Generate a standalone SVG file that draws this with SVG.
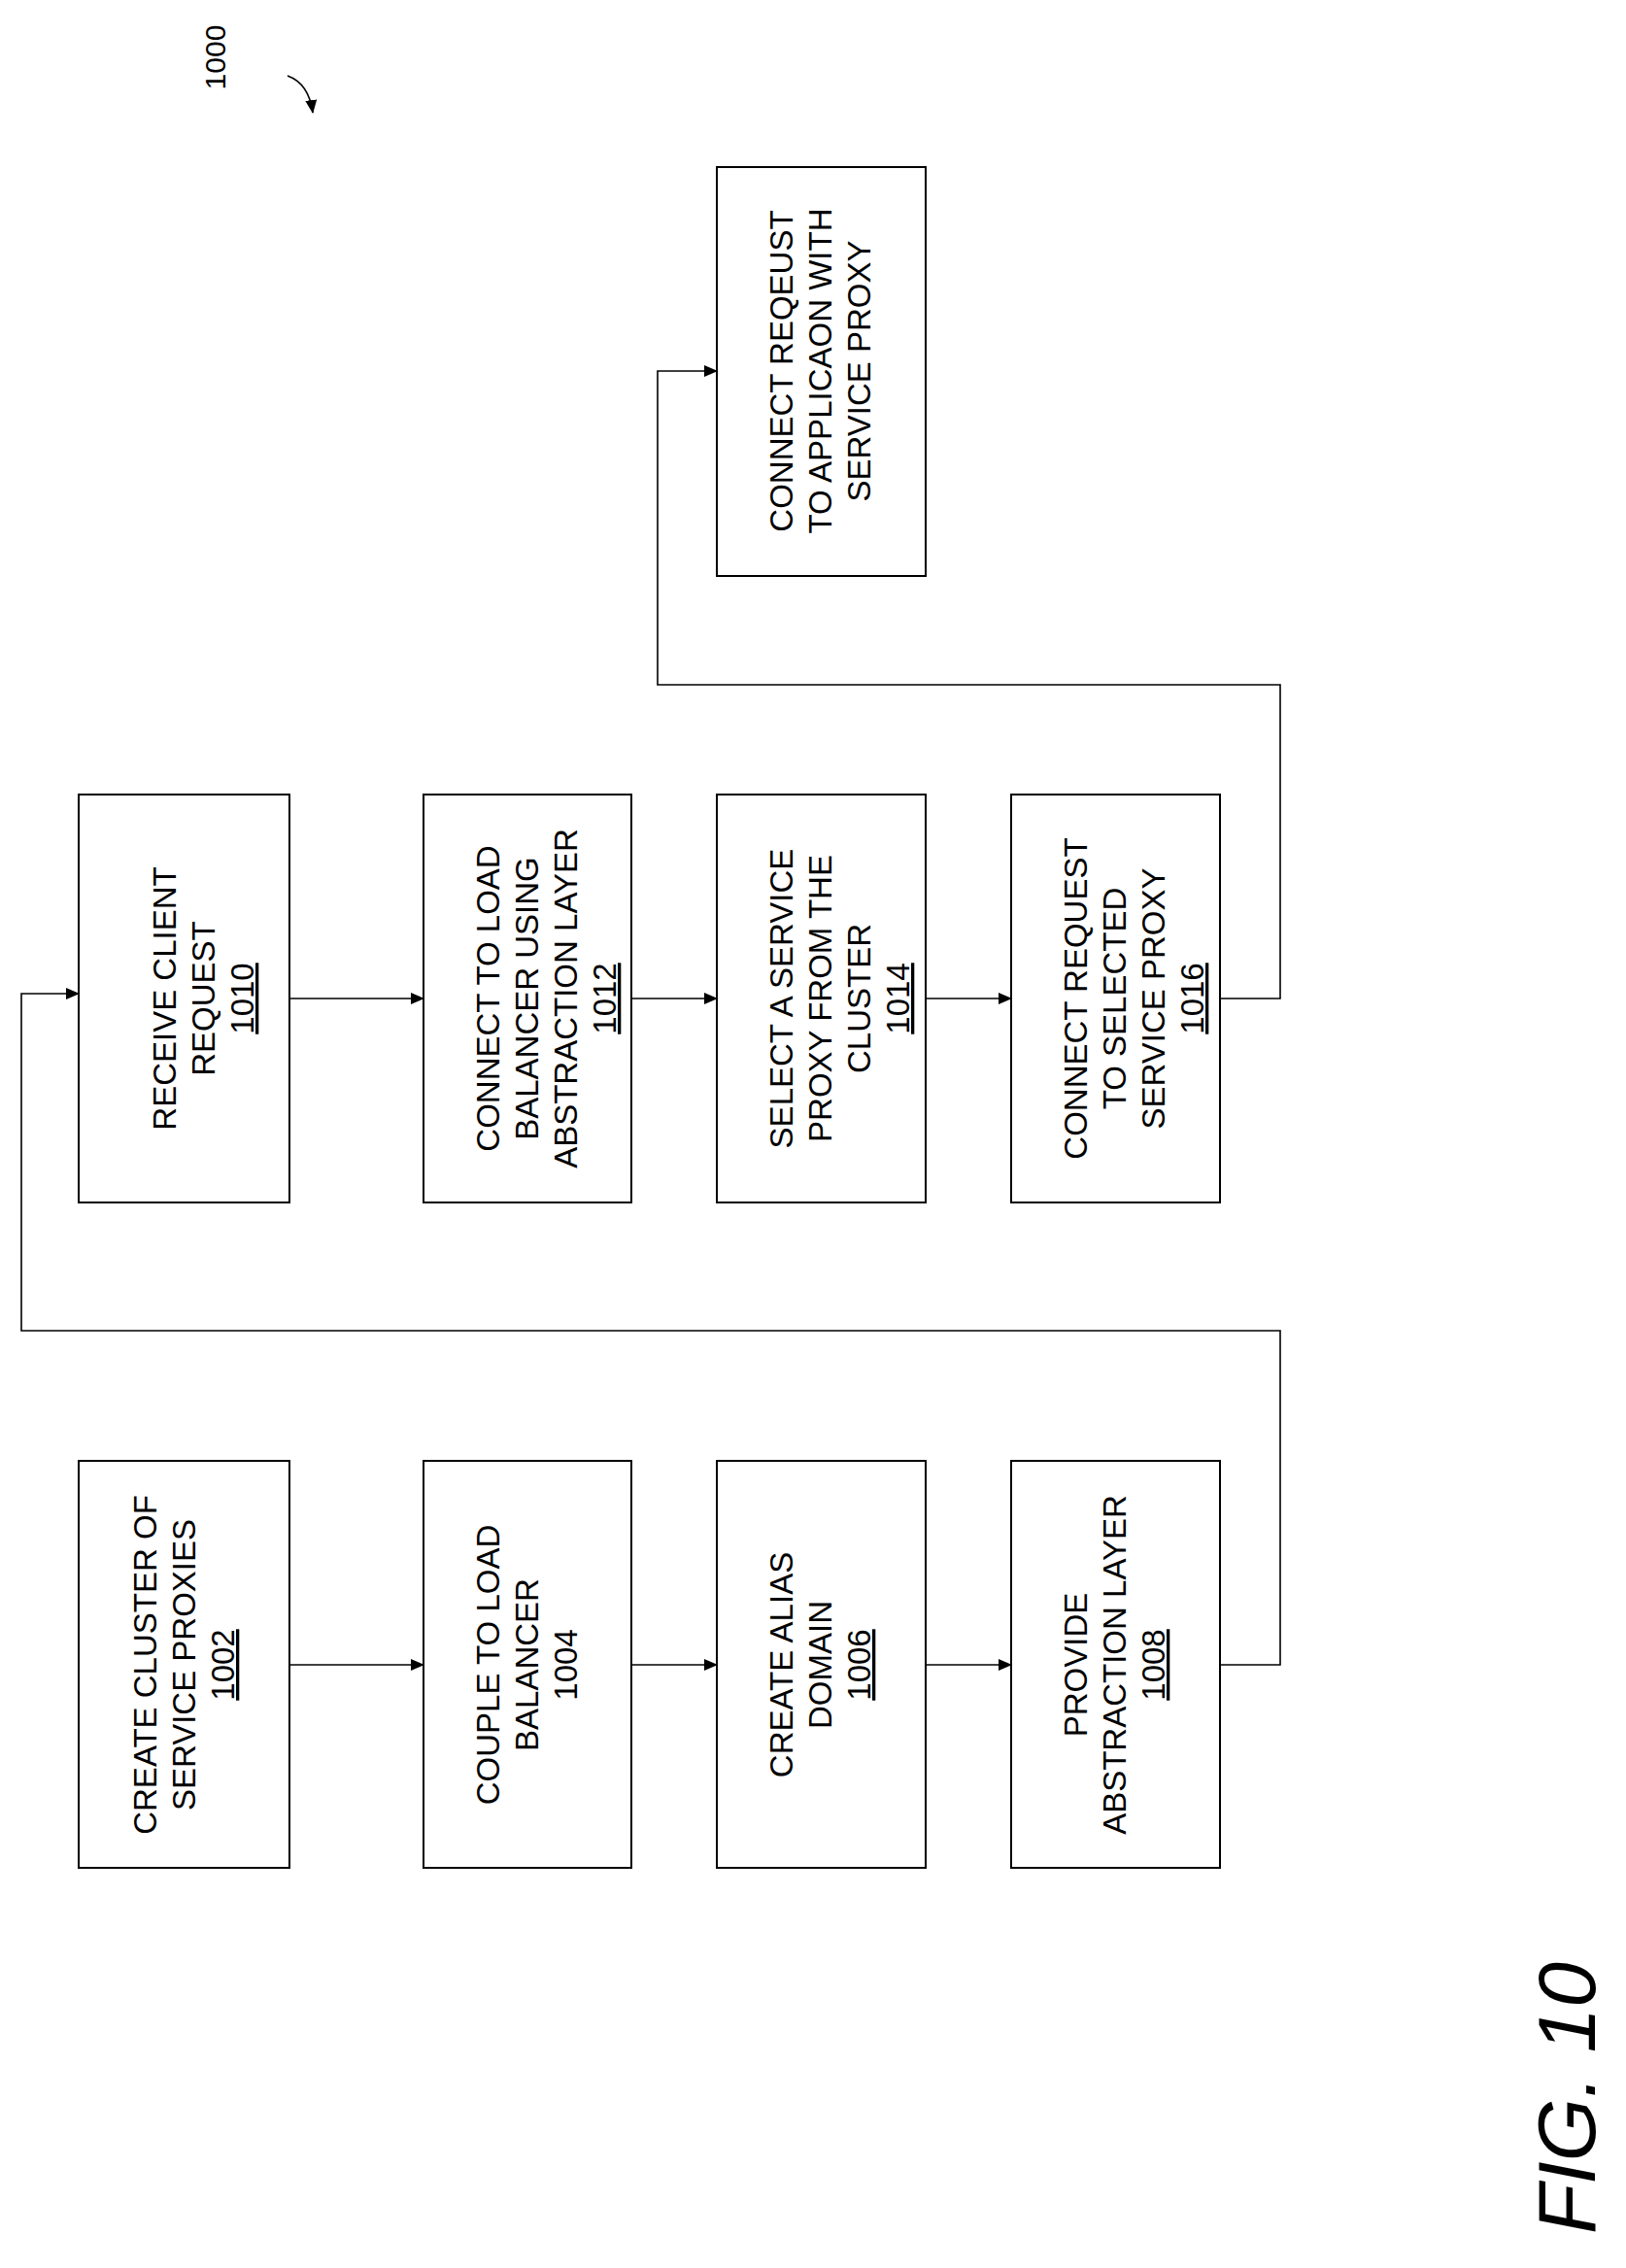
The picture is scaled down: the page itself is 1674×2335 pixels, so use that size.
<svg xmlns="http://www.w3.org/2000/svg" width="1674" height="2335" viewBox="0 0 1674 2335">
<style>
.b{fill:#fff;stroke:#000;stroke-width:2}
.t{font-family:"Liberation Sans",Arial,sans-serif;font-size:33px;text-anchor:middle;fill:#000}
.u{text-decoration:underline}
.c{fill:none;stroke:#000;stroke-width:1.6}
</style>
<defs><marker id="a" markerWidth="14" markerHeight="12" refX="13" refY="6" orient="auto" markerUnits="userSpaceOnUse"><path d="M0,0 L14,6 L0,12 Z" fill="#000"/></marker></defs>
<rect width="1674" height="2335" fill="#fff"/>
<g id="connectors">
<line class="c" x1="298" y1="1714" x2="436" y2="1714" marker-end="url(#a)"/>
<line class="c" x1="650" y1="1714" x2="738" y2="1714" marker-end="url(#a)"/>
<line class="c" x1="953" y1="1714" x2="1041" y2="1714" marker-end="url(#a)"/>
<polyline class="c" points="1256,1714 1318,1714 1318,1370 22,1370 22,1023 81,1023" marker-end="url(#a)"/>
<line class="c" x1="298" y1="1028" x2="436" y2="1028" marker-end="url(#a)"/>
<line class="c" x1="650" y1="1028" x2="738" y2="1028" marker-end="url(#a)"/>
<line class="c" x1="953" y1="1028" x2="1041" y2="1028" marker-end="url(#a)"/>
<polyline class="c" points="1256,1028 1318,1028 1318,705 677,705 677,382 738,382" marker-end="url(#a)"/>
<path class="c" d="M296,78 Q318,86 322,116" marker-end="url(#a)"/>
</g>
<g id="n1000"><text class="t" style="font-size:30px" transform="rotate(-90 222 59)" x="222" y="69">1000</text></g>
<g id="n1002"><rect class="b" x="81" y="1504" width="217" height="419"/>
<text class="t" transform="rotate(-90 190 1714)" x="190" y="1685">CREATE CLUSTER OF</text>
<text class="t" transform="rotate(-90 190 1714)" x="190" y="1725">SERVICE PROXIES</text>
<text class="t u" transform="rotate(-90 190 1714)" x="190" y="1765">1002</text></g>
<g id="n1004"><rect class="b" x="436" y="1504" width="214" height="419"/>
<text class="t" transform="rotate(-90 543 1714)" x="543" y="1685">COUPLE TO LOAD</text>
<text class="t" transform="rotate(-90 543 1714)" x="543" y="1725">BALANCER</text>
<text class="t" transform="rotate(-90 543 1714)" x="543" y="1765">1004</text></g>
<g id="n1006"><rect class="b" x="738" y="1504" width="215" height="419"/>
<text class="t" transform="rotate(-90 845 1714)" x="845" y="1685">CREATE ALIAS</text>
<text class="t" transform="rotate(-90 845 1714)" x="845" y="1725">DOMAIN</text>
<text class="t u" transform="rotate(-90 845 1714)" x="845" y="1765">1006</text></g>
<g id="n1008"><rect class="b" x="1041" y="1504" width="215" height="419"/>
<text class="t" transform="rotate(-90 1148 1714)" x="1148" y="1685">PROVIDE</text>
<text class="t" transform="rotate(-90 1148 1714)" x="1148" y="1725">ABSTRACTION LAYER</text>
<text class="t u" transform="rotate(-90 1148 1714)" x="1148" y="1765">1008</text></g>
<g id="n1010"><rect class="b" x="81" y="818" width="217" height="420"/>
<text class="t" transform="rotate(-90 190 1028)" x="190" y="1019">RECEIVE CLIENT</text>
<text class="t" transform="rotate(-90 190 1028)" x="190" y="1059">REQUEST</text>
<text class="t u" transform="rotate(-90 190 1028)" x="190" y="1099">1010</text></g>
<g id="n1012"><rect class="b" x="436" y="818" width="214" height="420"/>
<text class="t" transform="rotate(-90 543 1028)" x="543" y="999">CONNECT TO LOAD</text>
<text class="t" transform="rotate(-90 543 1028)" x="543" y="1039">BALANCER USING</text>
<text class="t" transform="rotate(-90 543 1028)" x="543" y="1079">ABSTRACTION LAYER</text>
<text class="t u" transform="rotate(-90 543 1028)" x="543" y="1119">1012</text></g>
<g id="n1014"><rect class="b" x="738" y="818" width="215" height="420"/>
<text class="t" transform="rotate(-90 845 1028)" x="845" y="999">SELECT A SERVICE</text>
<text class="t" transform="rotate(-90 845 1028)" x="845" y="1039">PROXY FROM THE</text>
<text class="t" transform="rotate(-90 845 1028)" x="845" y="1079">CLUSTER</text>
<text class="t u" transform="rotate(-90 845 1028)" x="845" y="1119">1014</text></g>
<g id="n1016"><rect class="b" x="1041" y="818" width="215" height="420"/>
<text class="t" transform="rotate(-90 1148 1028)" x="1148" y="999">CONNECT REQUEST</text>
<text class="t" transform="rotate(-90 1148 1028)" x="1148" y="1039">TO SELECTED</text>
<text class="t" transform="rotate(-90 1148 1028)" x="1148" y="1079">SERVICE PROXY</text>
<text class="t u" transform="rotate(-90 1148 1028)" x="1148" y="1119">1016</text></g>
<g id="n1018"><rect class="b" x="738" y="172" width="215" height="421"/>
<text class="t" transform="rotate(-90 845 382)" x="845" y="353">CONNECT REQEUST</text>
<text class="t" transform="rotate(-90 845 382)" x="845" y="393">TO APPLICAON WITH</text>
<text class="t" transform="rotate(-90 845 382)" x="845" y="433">SERVICE PROXY</text></g>
<g id="fig"><text class="t" style="font-size:84px;font-style:italic" transform="rotate(-90 1612 2160)" x="1612" y="2190">FIG. 10</text></g>
</svg>
